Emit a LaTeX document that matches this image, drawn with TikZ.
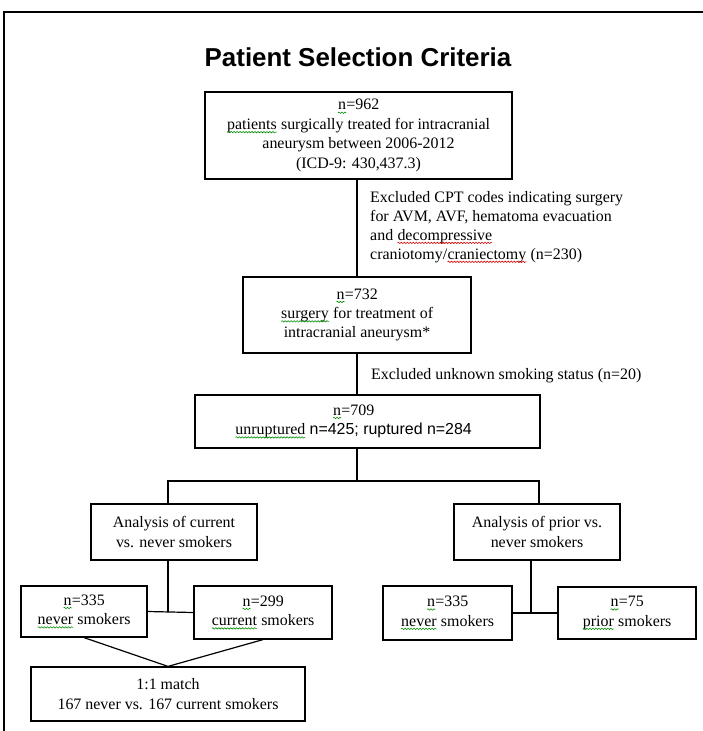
\documentclass[tikz,border=0pt]{standalone}
\usepackage{fontspec}
\setmainfont{Liberation Serif}
\setsansfont{Liberation Sans}
\usetikzlibrary{shadows,decorations.pathmorphing}
% squiggly underlines of the spell checker
\newcommand{\wavy}[2]{\tikz[baseline=(w.base),x=1cm,y=1cm]{\node[inner sep=0pt,outer sep=0pt,
    minimum width=0pt,minimum height=0pt,anchor=center] (w) {#2};
  \draw[#1, line width=0.6pt, decorate, decoration={snake,amplitude=0.7pt,segment length=3pt}]
    ([yshift=-2.8pt]w.base west) -- ([yshift=-2.8pt]w.base east);}}
\newcommand{\gsq}[1]{\wavy{green!55!black}{#1}}
\newcommand{\rsq}[1]{\wavy{red!85!black}{#1}}

\begin{document}
\begin{tikzpicture}[x=1bp,y=-1bp,
  box/.style={draw, line width=1.2bp, fill=white, align=center, inner sep=0pt,
    font=\fontsize{16}{19.5}\selectfont,
    drop shadow={shadow xshift=1bp,shadow yshift=-1bp,opacity=.5}},
  note/.style={anchor=west, align=left, inner sep=0pt, font=\fontsize{16}{19}\selectfont},
  link/.style={line width=1.2bp}]
  \useasboundingbox (0,0) rectangle (703,731);
  \draw[line width=1.5bp] (4,731) -- (4,12) -- (703,12);
  \node[font=\fontsize{26}{30}\sffamily\bfseries\selectfont] (title) at (358,57) {Patient Selection Criteria};

  % main column
  \node[box, minimum width=307bp, minimum height=87bp] (n962) at (358.5,135.5)
    {\gsq{n}=962\\\gsq{patients} surgically treated for intracranial\\aneurysm between 2006-2012\\(ICD-9: 430,437.3)};
  \node[box, minimum width=228bp, minimum height=76bp] (n732) at (357,315)
    {\gsq{n}=732\\\gsq{surgery} for treatment of\\intracranial aneurysm*};
  \node[box, minimum width=345bp, minimum height=53bp] (n709) at (367.5,421.5)
    {\gsq{n}=709\hspace*{28bp}\\\gsq{unruptured} {\sffamily n=425; ruptured n=284}\hspace*{28bp}};
  \node[note] (excl1) at (370,227)
    {Excluded CPT codes indicating surgery\\for AVM, AVF, hematoma evacuation\\and \rsq{decompressive}\\craniotomy/\rsq{craniectomy} (n=230)};
  \node[note] (excl2) at (371,376) {Excluded unknown smoking status (n=20)};

  % analyses
  \node[box, minimum width=166bp, minimum height=56bp] (curr) at (174,532)
    {Analysis of current\\vs. never smokers};
  \node[box, minimum width=166bp, minimum height=56bp] (prior) at (537,532)
    {Analysis of prior vs.\\never smokers};
  \node[box, minimum width=126bp, minimum height=51bp] (nev1) at (84,611.5)
    {\gsq{n}=335\\\gsq{never} smokers};
  \node[box, minimum width=138bp, minimum height=53bp] (cur1) at (263,612.5)
    {\gsq{n}=299\\\gsq{current} smokers};
  \node[box, minimum width=129bp, minimum height=54bp] (nev2) at (447.5,613)
    {\gsq{n}=335\\\gsq{never} smokers};
  \node[box, minimum width=138bp, minimum height=52bp] (pri1) at (627,613)
    {\gsq{n}=75\\\gsq{prior} smokers};
  \node[box, minimum width=274bp, minimum height=54bp] (match) at (168,694)
    {1:1 match\\167 never vs. 167 current smokers};

  \coordinate (split) at (357,481);
  \coordinate (lft) at (168,481);
  \coordinate (rgt) at (539,481);
  \coordinate (rmid) at (531,612);

  \draw[link] (n732.north |- n962.south) -- (n732.north);
  \draw[link] (n732.south) -- (n732.south |- n709.north);
  \draw[link] (split |- n709.south) -- (split);
  \draw[link] (lft |- curr.north) -- (lft) -- (rgt) -- (rgt |- prior.north);
  \draw[link] (nev1.east) -- (cur1.west);
  \draw[link] (lft |- curr.south) -- (lft |- nev1.east);
  \draw[link] (nev2.east) -- (pri1.west);
  \draw[link] (rmid |- prior.south) -- (rmid);
  \draw[link] (nev1.south) -- (match.north) -- (cur1.south);
\end{tikzpicture}
\end{document}
